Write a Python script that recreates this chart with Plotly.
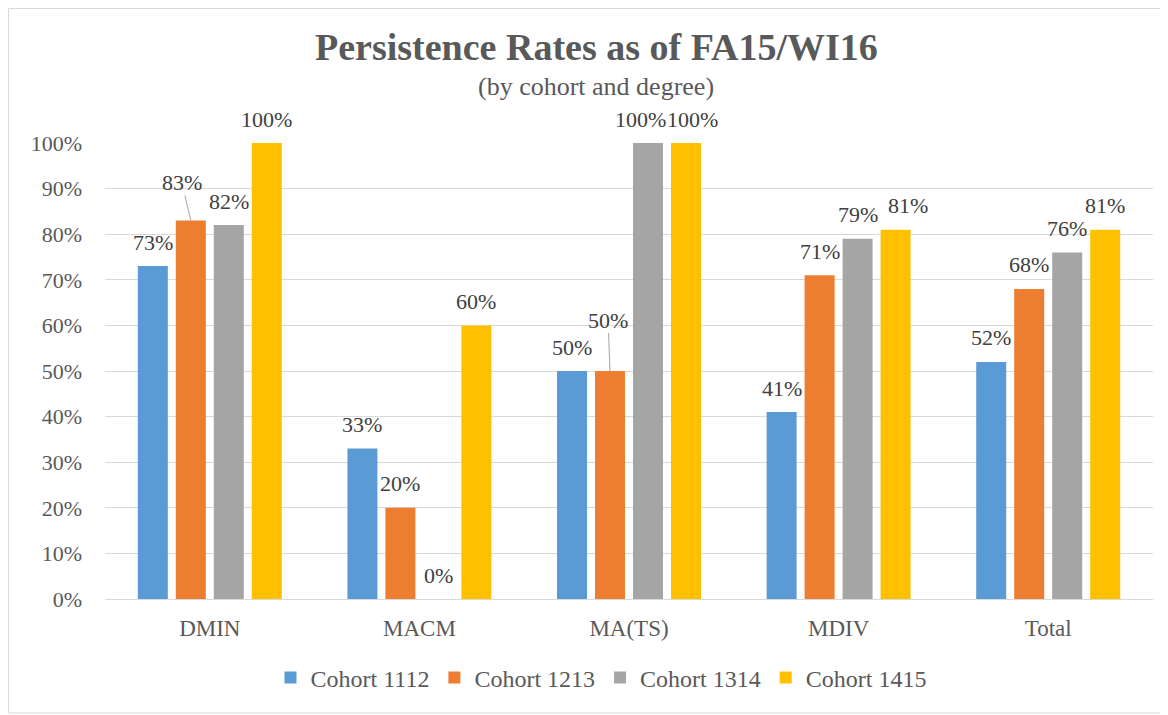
import plotly.graph_objects as go

categories = ["DMIN", "MACM", "MA(TS)", "MDIV", "Total"]
series_names = ["Cohort 1112", "Cohort 1213", "Cohort 1314", "Cohort 1415"]
cohort_1112 = [0.73, 0.33, 0.50, 0.41, 0.52]
cohort_1213 = [0.83, 0.20, 0.50, 0.71, 0.68]
cohort_1314 = [0.82, 0.00, 1.00, 0.79, 0.76]
cohort_1415 = [1.00, 0.60, 1.00, 0.81, 0.81]
series_values = [cohort_1112, cohort_1213, cohort_1314, cohort_1415]
colors = ["#5B9BD5", "#ED7D31", "#A5A5A5", "#FFC000"]

FONT = "Liberation Serif, Times New Roman, serif"
W, H = 1160, 707
ML, MR, MT, MB = 97, 15, 135, 116
PW, PH = W - ML - MR, H - MT - MB
BARGAP, GROUPGAP = 0.275, 0.21


def px_x(x):
    return (x - ML) / PW


def px_y(y):
    return (H - MB - y) / PH


fig = go.Figure()
for name, vals, col in zip(series_names, series_values, colors):
    fig.add_trace(go.Bar(x=categories, y=vals, name=name,
                         marker=dict(color=col, line=dict(width=0))))

# pixel offset of each series' bar centre within a category group
cat_w = PW / len(categories)
slot = cat_w * (1 - BARGAP) / len(series_values)
offsets = [(i - (len(series_values) - 1) / 2) * slot for i in range(len(series_values))]

# label placement overrides (styling): (series, category) -> (dx, dy, leader)
overrides = {(1, 0): (-9, 38, True), (1, 2): (-2, 51, True), (3, 3): (12, 24, False),
             (2, 2): (-7, 24, False), (3, 2): (7, 24, False)}

annotations = []
for si, vals in enumerate(series_values):
    for ci, v in enumerate(vals):
        dx, dy, leader = overrides.get((si, ci), (0, 24, False))
        txt = f"{round(v * 100)}%"
        if leader:
            annotations.append(dict(x=categories[ci], y=v, xref="x", yref="y", text=txt,
                                    showarrow=True, arrowhead=0, arrowwidth=1,
                                    arrowcolor="#A6A6A6", ax=dx, ay=-dy, standoff=0,
                                    xshift=offsets[si], borderpad=0,
                                    font=dict(family=FONT, size=22, color="#404040")))
        else:
            annotations.append(dict(x=categories[ci], y=v, xref="x", yref="y", text=txt,
                                    showarrow=False, xshift=offsets[si] + dx, yshift=dy,
                                    xanchor="center", yanchor="middle",
                                    font=dict(family=FONT, size=22, color="#404040")))

# title and subtitle
annotations.append(dict(x=px_x(588), y=px_y(39), xref="paper", yref="paper",
                        text="<b>Persistence Rates as of FA15/WI16</b>", showarrow=False,
                        xanchor="center", yanchor="middle",
                        font=dict(family=FONT, size=38, color="#595959")))
annotations.append(dict(x=px_x(588), y=px_y(78), xref="paper", yref="paper",
                        text="(by cohort and degree)", showarrow=False,
                        xanchor="center", yanchor="middle",
                        font=dict(family=FONT, size=26, color="#595959")))

fig.update_layout(
    width=W, height=H,
    margin=dict(l=ML, r=MR, t=MT, b=MB, pad=0),
    paper_bgcolor="white", plot_bgcolor="white",
    barmode="group", bargap=BARGAP, bargroupgap=GROUPGAP,
    font=dict(family=FONT, color="#595959"),
    annotations=annotations,
    showlegend=True,
    legend=dict(orientation="h", x=px_x(593), y=px_y(670),
                xanchor="center", yanchor="middle",
                font=dict(family=FONT, size=24, color="#595959"),
                bgcolor="rgba(0,0,0,0)", itemclick=False),
    shapes=[dict(type="rect", xref="paper", yref="paper",
                 x0=px_x(0.5), x1=px_x(1175),
                 y0=px_y(705), y1=px_y(0.5),
                 line=dict(color="#D9D9D9", width=1), fillcolor="rgba(0,0,0,0)", layer="below")],
)
fig.update_yaxes(range=[0, 1], dtick=0.1, tickformat=".0%", showgrid=True,
                 gridcolor="#D9D9D9", gridwidth=1, zeroline=False, showline=False,
                 ticks="", ticklabelstandoff=22,
                 tickfont=dict(family=FONT, size=22, color="#595959"))
fig.update_xaxes(showgrid=False, showline=True, linecolor="#D9D9D9", linewidth=1,
                 ticks="", ticklabelstandoff=8,
                 tickfont=dict(family=FONT, size=23, color="#595959"))

fig.write_html("out.html")
